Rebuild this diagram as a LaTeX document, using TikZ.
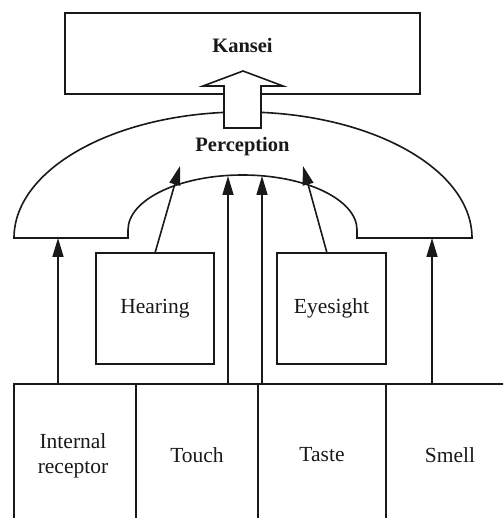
\documentclass[tikz,border=0pt]{standalone}
\usepackage{fontspec}
\setmainfont{Liberation Serif}
\usetikzlibrary{arrows.meta}
\begin{document}
\begin{tikzpicture}[x=1pt,y=1pt,
  ln/.style={line width=1.6pt,draw=black!90},
  box/.style={ln,rectangle,inner sep=0pt,fill=white},
  arr/.style={ln,-{Triangle[length=19pt,width=11pt]}},
  lbl/.style={font=\fontsize{21.5}{25}\selectfont,align=center,inner sep=0pt,text=black!90},
  blbl/.style={font=\fontsize{20.5}{24}\selectfont\bfseries,inner sep=0pt,text=black!90}]
\useasboundingbox (0,0) rectangle (503,518);
\clip (0,0) rectangle (503,518);
% Kansei
\node[box,minimum width=355,minimum height=81] (kansei) at (242.5,464.5) {};
\node[blbl] (kt) at (242.5,473) {Kansei};
% Perception shape
\draw[ln,fill=white] (14,280) arc[start angle=180,end angle=0,x radius=229,y radius=126]
  -- (357,280) -- (357,288)
  arc[start angle=0,end angle=180,x radius=114.5,y radius=55]
  -- (128,280) -- cycle;
\node[blbl] (perc) at (242.5,371) {Perception};
% hollow arrow
\draw[ln,fill=white,line join=miter] (224,390) -- (224,432) -- (203,432) -- (243,447) -- (283,432) -- (261,432) -- (261,390) -- cycle;
% boxes
\node[box,minimum width=118,minimum height=111] (hear) at (155,209.5) {};
\node[lbl] at (hear.center) {Hearing};
\node[box,minimum width=109,minimum height=111] (eye) at (331.5,209.5) {};
\node[lbl] at (eye.center) {Eyesight};
\node[box,minimum width=122,minimum height=144] (ir) at (75,62) {};
\node[lbl] (irt) at (73,62) {Internal\\receptor};
\node[box,minimum width=122,minimum height=144] (touch) at (197,62) {};
\node[lbl] (tt) at (197,63) {Touch};
\node[box,minimum width=128,minimum height=144] (taste) at (322,62) {};
\node[lbl] (tat) at (322,63) {Taste};
\node[box,minimum width=134,minimum height=144] (smell) at (453,62) {};
\node[lbl] (st) at (450,63) {Smell};
% arrow targets
\coordinate (pIR) at (58,280);
\coordinate (pSM) at (432,280);
\coordinate (pTO) at (228,342);
\coordinate (pTA) at (262,342);
\coordinate (pHE) at (180,352);
\coordinate (pEY) at (303,352);
\coordinate (sHE) at (155,265);
\coordinate (sEY) at (327,265);
\draw[arr] (ir.north -| pIR) -- (pIR);
\draw[arr] (smell.north -| pSM) -- (pSM);
\draw[arr] (touch.north -| pTO) -- (pTO);
\draw[arr] (taste.north -| pTA) -- (pTA);
\draw[arr] (sHE) -- (pHE);
\draw[arr] (sEY) -- (pEY);
\end{tikzpicture}
\end{document}
